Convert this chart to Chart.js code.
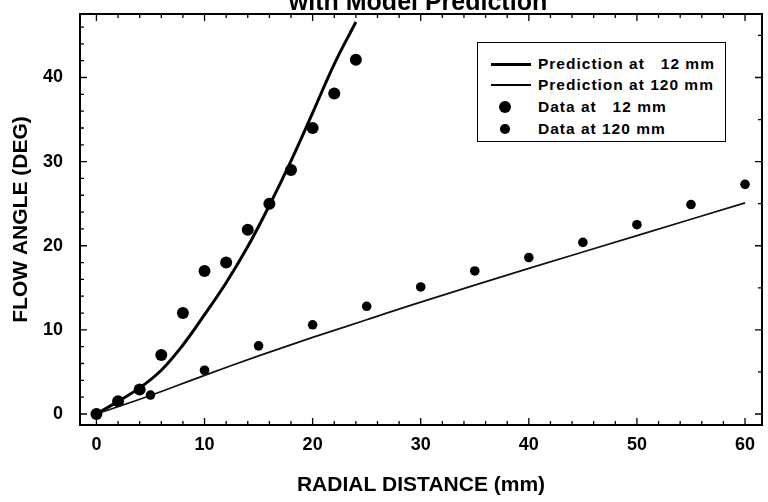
<!DOCTYPE html>
<html lang="en">
<head>
  <meta charset="UTF-8" />
  <title>Flow Angle vs Radial Distance</title>
  <script src="https://cdn.jsdelivr.net/npm/chart.js"></script>
  <style>
    body { margin: 0; background: #fff; font-family: "Liberation Sans", Arial, sans-serif; }
    #wrap { position: relative; width: 768px; height: 502px; overflow: hidden; }
    #legend {
      position: absolute; left: 477px; top: 42px; width: 249px; height: 100px;
      border: 1px solid #000; background: #fff; box-sizing: border-box;
    }
    .item { position: absolute; left: 0; height: 20px; width: 100%; }
    .item .txt {
      position: absolute; left: 60px; top: 0; line-height: 20px;
      font-weight: bold; font-size: 15.5px; letter-spacing: 1px; white-space: pre; color: #000;
    }
    .item .ln { position: absolute; left: 13px; width: 40px; background: #000; }
    .item .dot { position: absolute; background: #000; border-radius: 50%; }
  </style>
</head>
<body>
<div id="wrap">
  <canvas id="chart" width="768" height="502"></canvas>
  <div id="legend"></div>
</div>

<script>
  // values
  const pred12X = [0, 2, 4, 6, 8, 10, 12, 14, 16, 18, 20, 22, 24];
  const pred12Y = [0, 1.5, 3.1, 5.2, 8.2, 11.8, 15.6, 19.9, 24.8, 30.1, 35.8, 41.6, 46.6];

  const pred120X = [0, 5, 10, 15, 20, 25, 30, 40, 50, 60];
  const pred120Y = [0, 2.2, 4.6, 6.9, 9.1, 11.2, 13.3, 17.3, 21.2, 25.1];

  const data12X = [0, 2, 4, 6, 8, 10, 12, 14, 16, 18, 20, 22, 24];
  const data12Y = [0, 1.5, 2.9, 7.0, 12.0, 17.0, 18.0, 21.9, 25.0, 29.0, 34.0, 38.1, 42.1];

  const data120X = [0, 5, 10, 15, 20, 25, 30, 35, 40, 45, 50, 55, 60];
  const data120Y = [0, 2.25, 5.2, 8.1, 10.6, 12.8, 15.1, 17.0, 18.6, 20.4, 22.5, 24.9, 27.3];

  const xTicks = [0, 10, 20, 30, 40, 50, 60];
  const yTicks = [0, 10, 20, 30, 40];

  const toPts = (xs, ys) => xs.map((x, i) => ({ x: x, y: ys[i] }));

  Chart.defaults.font.family = '"Liberation Sans", Arial, sans-serif';
  Chart.defaults.color = '#000';

  // inward tick marks + frame + the clipped heading at the very top
  const frame = {
    id: 'frame',
    afterDraw(chart) {
      const { ctx, chartArea: a, scales } = chart;
      const xs = scales.x, ys = scales.y;
      ctx.save();
      ctx.strokeStyle = '#000';
      ctx.lineWidth = 1.3;
      ctx.beginPath();
      for (let v = 0; v <= 60; v += 2) {
        const px = xs.getPixelForValue(v);
        const len = v % 10 === 0 ? 7 : 4;
        ctx.moveTo(px, a.bottom); ctx.lineTo(px, a.bottom - len);
        ctx.moveTo(px, a.top); ctx.lineTo(px, a.top + len);
      }
      for (let v = 0; v <= 46; v += 2) {
        const py = ys.getPixelForValue(v);
        const len = v % 10 === 0 ? 7 : 4;
        ctx.moveTo(a.left, py); ctx.lineTo(a.left + len, py);
      }
      for (let v = 0; v <= 45; v += 5) {
        const py = ys.getPixelForValue(v);
        const len = v % 10 === 0 ? 7 : 4;
        ctx.moveTo(a.right, py); ctx.lineTo(a.right - len, py);
      }
      ctx.stroke();
      ctx.lineWidth = 2;
      ctx.strokeRect(a.left, a.top, a.right - a.left, a.bottom - a.top);

      ctx.fillStyle = '#000';
      ctx.font = 'bold 25px "Liberation Sans", Arial, sans-serif';
      ctx.textAlign = 'center';
      ctx.textBaseline = 'alphabetic';
      ctx.fillText('with Model Prediction', (a.left + a.right) / 2 - 3, 10);
      ctx.restore();
    }
  };

  const chart = new Chart(document.getElementById('chart'), {
    type: 'scatter',
    data: {
      datasets: [
        {
          label: 'Prediction at   12 mm',
          data: toPts(pred12X, pred12Y),
          showLine: true, borderColor: '#000', borderWidth: 3,
          pointRadius: 0, tension: 0.4
        },
        {
          label: 'Prediction at 120 mm',
          data: toPts(pred120X, pred120Y),
          showLine: true, borderColor: '#111', borderWidth: 1.8,
          pointRadius: 0, tension: 0.4
        },
        {
          label: 'Data at   12 mm',
          data: toPts(data12X, data12Y),
          pointRadius: 6, backgroundColor: '#000', borderColor: '#000', borderWidth: 0
        },
        {
          label: 'Data at 120 mm',
          data: toPts(data120X, data120Y),
          pointRadius: 4.8, backgroundColor: '#000', borderColor: '#000', borderWidth: 0
        }
      ]
    },
    options: {
      responsive: false,
      animation: false,
      layout: { padding: { left: 0, top: 14, right: 3, bottom: 0 } },
      plugins: {
        legend: { display: false },
        tooltip: { enabled: false }
      },
      scales: {
        x: {
          type: 'linear', min: -1.52, max: 61.57,
          afterBuildTicks: s => { s.ticks = xTicks.map(v => ({ value: v })); },
          afterFit: s => { s.height = 77; s.paddingLeft = 0; s.paddingRight = 0; },
          grid: { display: false },
          border: { display: false },
          ticks: { font: { size: 18, weight: 'bold' }, padding: 1, maxRotation: 0 },
          title: {
            display: true, text: 'RADIAL DISTANCE (mm)',
            font: { size: 21, weight: 'bold' }, padding: { top: 0, bottom: 4 }
          }
        },
        y: {
          type: 'linear', min: -1.31, max: 47.55,
          afterBuildTicks: s => { s.ticks = yTicks.map(v => ({ value: v })); },
          afterFit: s => { s.width = 80; s.paddingTop = 0; s.paddingBottom = 0; },
          grid: { display: false },
          border: { display: false },
          ticks: { font: { size: 18, weight: 'bold' }, padding: 9 },
          title: {
            display: true, text: 'FLOW ANGLE (DEG)',
            font: { size: 21, weight: 'bold' }, padding: { top: 9, bottom: 0 }
          }
        }
      }
    },
    plugins: [frame]
  });

  // legend box inside the plot, built from the datasets
  const rows = [{ top: 11, kind: 'line', w: 3 }, { top: 32, kind: 'line', w: 2 },
                { top: 54, kind: 'dot', r: 6 }, { top: 76, kind: 'dot', r: 4.8 }];
  const legend = document.getElementById('legend');
  chart.data.datasets.forEach((ds, i) => {
    const r = rows[i];
    const item = document.createElement('div');
    item.className = 'item';
    item.style.top = r.top + 'px';
    if (r.kind === 'line') {
      const ln = document.createElement('div');
      ln.className = 'ln';
      ln.style.height = r.w + 'px';
      ln.style.top = (10 - r.w / 2) + 'px';
      item.appendChild(ln);
    } else {
      const dot = document.createElement('div');
      dot.className = 'dot';
      dot.style.width = dot.style.height = (r.r * 2) + 'px';
      dot.style.left = (27 - r.r) + 'px';
      dot.style.top = (10 - r.r) + 'px';
      item.appendChild(dot);
    }
    const txt = document.createElement('span');
    txt.className = 'txt';
    txt.textContent = ds.label;
    item.appendChild(txt);
    legend.appendChild(item);
  });
</script>
</body>
</html>
